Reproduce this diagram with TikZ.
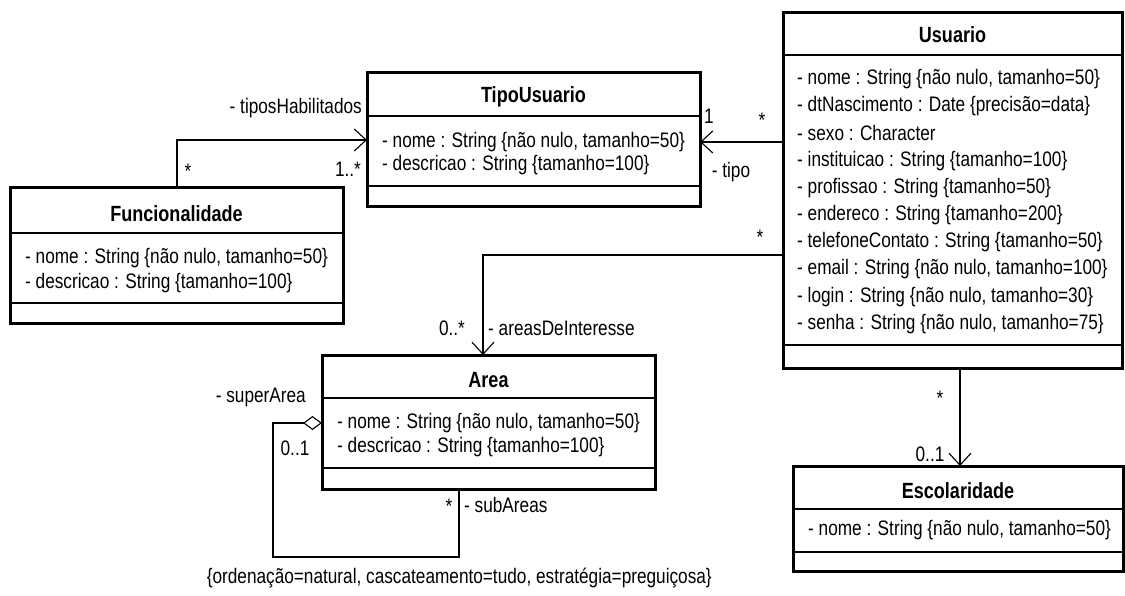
\documentclass[tikz,border=0pt]{standalone}
\usepackage{fontspec}
\setmainfont{Liberation Sans}[FakeStretch=0.82]
\newfontfamily\titlefont{Liberation Sans}[FakeStretch=0.82]
\usetikzlibrary{arrows.meta}
\begin{document}
\begin{tikzpicture}[x=1pt,y=-1pt,
  classbox/.style={draw, line width=3pt, inner sep=0pt, outer sep=0pt},
  sepline/.style={line width=1.3pt},
  title/.style={font=\titlefont\fontsize{22}{22}\selectfont\bfseries, inner sep=0pt},
  attr/.style={font=\fontsize{21}{21}\selectfont, anchor=west, inner sep=0pt},
  lbl/.style={font=\fontsize{21}{21}\selectfont, inner sep=0pt},
  assoc/.style={line width=1.1pt, -{Straight Barb[length=12pt,width=22pt,line width=1.1pt]}},
]
\useasboundingbox (0,0) rectangle (1125,596);

% ---------- TipoUsuario ----------
\node[classbox, minimum width=333pt, minimum height=134pt] (tipo) at (533.5,140) {};
\draw[sepline] (tipo.west |- 0,116) -- (tipo.east |- 0,116);
\draw[sepline] (tipo.west |- 0,186) -- (tipo.east |- 0,186);
\node[title] (tipoT) at (533.5,97) {TipoUsuario};
\node[attr] (tipoA1) at (382,142) {- nome : String \{não nulo, tamanho=50\}};
\node[attr] (tipoA2) at (382,165) {- descricao : String \{tamanho=100\}};

% ---------- Funcionalidade ----------
\node[classbox, minimum width=333pt, minimum height=135pt] (func) at (176.5,255.5) {};
\draw[sepline] (func.west |- 0,233) -- (func.east |- 0,233);
\draw[sepline] (func.west |- 0,303) -- (func.east |- 0,303);
\node[title] (funcT) at (176.5,214) {Funcionalidade};
\node[attr] (funcA1) at (25,258) {- nome : String \{não nulo, tamanho=50\}};
\node[attr] (funcA2) at (25,283) {- descricao : String \{tamanho=100\}};

% ---------- Usuario ----------
\node[classbox, minimum width=339pt, minimum height=355pt] (usu) at (952.5,190.5) {};
\draw[sepline] (usu.west |- 0,55) -- (usu.east |- 0,55);
\draw[sepline] (usu.west |- 0,345) -- (usu.east |- 0,345);
\node[title] (usuT) at (952.5,35) {Usuario};
\node[attr] (usuA1) at (797,79) {- nome : String \{não nulo, tamanho=50\}};
\node[attr] (usuA2) at (797,106.2) {- dtNascimento : Date \{precisão=data\}};
\node[attr] (usuA3) at (797,133.4) {- sexo : Character};
\node[attr] (usuA4) at (797,160.6) {- instituicao : String \{tamanho=100\}};
\node[attr] (usuA5) at (797,187.8) {- profissao : String \{tamanho=50\}};
\node[attr] (usuA6) at (797,215) {- endereco : String \{tamanho=200\}};
\node[attr] (usuA7) at (797,242.2) {- telefoneContato : String \{tamanho=50\}};
\node[attr] (usuA8) at (797,269.4) {- email : String \{não nulo, tamanho=100\}};
\node[attr] (usuA9) at (797,296.6) {- login : String \{não nulo, tamanho=30\}};
\node[attr] (usuA10) at (797,323.8) {- senha : String \{não nulo, tamanho=75\}};

% ---------- Area ----------
\node[classbox, minimum width=333pt, minimum height=134pt] (area) at (488.5,422) {};
\draw[sepline] (area.west |- 0,398) -- (area.east |- 0,398);
\draw[sepline] (area.west |- 0,468) -- (area.east |- 0,468);
\node[title] (areaT) at (488.5,380) {Area};
\node[attr] (areaA1) at (337,423) {- nome : String \{não nulo, tamanho=50\}};
\node[attr] (areaA2) at (337,447) {- descricao : String \{tamanho=100\}};

% ---------- Escolaridade ----------
\node[classbox, minimum width=330pt, minimum height=105pt] (esc) at (958,518.5) {};
\draw[sepline] (esc.west |- 0,509) -- (esc.east |- 0,509);
\draw[sepline] (esc.west |- 0,552) -- (esc.east |- 0,552);
\node[title] (escT) at (958,491) {Escolaridade};
\node[attr] (escA1) at (808,530) {- nome : String \{não nulo, tamanho=50\}};

% ---------- Connectors ----------
\coordinate (fbend) at (177,140);
\draw[assoc] (func.north -| fbend) -- (fbend) -- (tipo.west |- fbend);
\node[lbl, anchor=east] (lTH) at (362,108) {- tiposHabilitados};
\node[lbl] (lF1) at (188,171) {*};
\node[lbl] (lF2) at (348,169) {1..*};

\coordinate (tipoY) at (0,142);
\draw[assoc] (usu.west |- tipoY) -- (tipo.east |- tipoY);
\node[lbl] (lT1) at (709,116) {1};
\node[lbl] (lT2) at (762,120) {*};
\node[lbl] (lT3) at (731,172) {- tipo};

\coordinate (abend) at (483,255);
\draw[assoc] (usu.west |- abend) -- (abend) -- (area.north -| abend);
\node[lbl] (lA1) at (760,237) {*};
\node[lbl] (lA2) at (452,328) {0..*};
\node[lbl, anchor=west] (lA3) at (488,328) {- areasDeInteresse};

\coordinate (sa1) at (273,423);
\coordinate (sa2) at (273,557);
\coordinate (sa3) at (459,557);
\draw[line width=1.1pt, {Diamond[open,length=19pt,width=14pt,line width=1.1pt]}-] (area.west |- sa1) -- (sa1) -- (sa2) -- (sa3) -- (area.south -| sa3);
\node[lbl, anchor=east] (lS1) at (306,397) {- superArea};
\node[lbl] (lS2) at (295,448) {0..1};
\node[lbl] (lS3) at (449,506) {*};
\node[lbl, anchor=west] (lS4) at (464,505) {- subAreas};
\node[lbl, anchor=east] (lC) at (712,578) {\{ordenação=natural, cascateamento=tudo, estratégia=preguiçosa\}};

\coordinate (ex) at (960,0);
\draw[assoc] (usu.south -| ex) -- (esc.north -| ex);
\node[lbl] (lE1) at (940,398) {*};
\node[lbl] (lE2) at (930,454) {0..1};
\end{tikzpicture}
\end{document}
